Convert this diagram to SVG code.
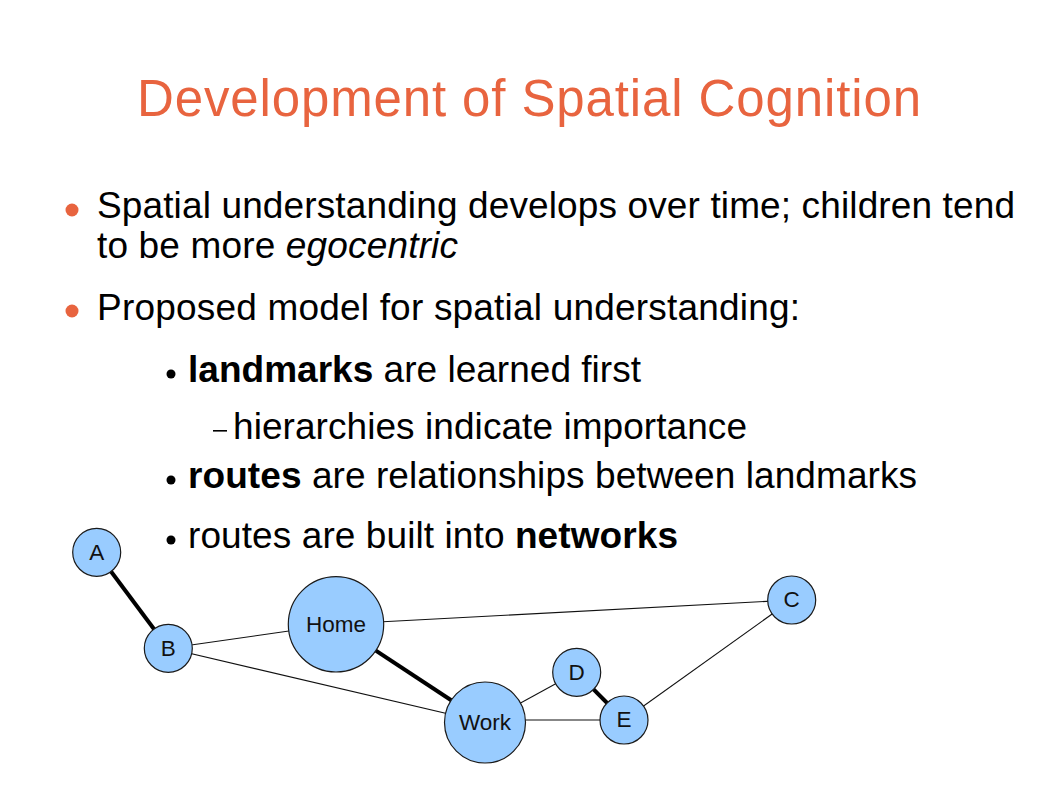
<svg xmlns="http://www.w3.org/2000/svg" width="1057" height="794" viewBox="0 0 1057 794">
<style>
.title{font-family:"Liberation Sans",Arial,sans-serif;font-size:51px;fill:#E8643F}
.body{font-family:"Liberation Sans",Arial,sans-serif;font-size:37px;fill:#000}
.b{font-weight:bold}
.i{font-style:italic}
.node circle{fill:#99CCFF;stroke:#1a1a1a;stroke-width:1.2}
.node text{font-family:"Liberation Sans",Arial,sans-serif;font-size:22.5px;fill:#111;text-anchor:middle}
.thin{stroke:#111;stroke-width:1.1}
.thick{stroke:#000;stroke-width:4}
</style>
<rect width="1057" height="794" fill="#fff"/>
<text class="title" x="137" y="116" textLength="784" lengthAdjust="spacing">Development of Spatial Cognition</text>
<circle cx="72" cy="210" r="6.5" fill="#E8643F"/>
<text class="body" x="97" y="218" textLength="918" lengthAdjust="spacing">Spatial understanding develops over time; children tend</text>
<text class="body" x="97" y="258" textLength="361" lengthAdjust="spacing">to be more <tspan class="i">egocentric</tspan></text>
<circle cx="72" cy="311" r="6.5" fill="#E8643F"/>
<text class="body" x="97" y="320" textLength="703" lengthAdjust="spacing">Proposed model for spatial understanding:</text>
<circle cx="171" cy="374" r="4.5" fill="#000"/>
<text class="body" x="188" y="382" textLength="453" lengthAdjust="spacing"><tspan class="b">landmarks</tspan> are learned first</text>
<rect x="213" y="430" width="14" height="1.6" fill="#000"/>
<text class="body" x="233" y="439" textLength="514" lengthAdjust="spacing">hierarchies indicate importance</text>
<circle cx="171" cy="480" r="4.5" fill="#000"/>
<text class="body" x="188" y="488" textLength="729" lengthAdjust="spacing"><tspan class="b">routes</tspan> are relationships between landmarks</text>
<circle cx="171" cy="540" r="4.5" fill="#000"/>
<text class="body" x="188" y="548" textLength="490" lengthAdjust="spacing">routes are built into <tspan class="b">networks</tspan></text>
<g id="connectors">
<line class="thick" x1="96.7" y1="552.3" x2="168.3" y2="648.3"/>
<line class="thin" x1="168.3" y1="648.3" x2="336" y2="624.3"/>
<line class="thin" x1="168.3" y1="648.3" x2="485" y2="722.5"/>
<line class="thick" x1="336" y1="624.3" x2="485" y2="722.5"/>
<line class="thin" x1="336" y1="624.3" x2="791.7" y2="600"/>
<line class="thin" x1="485" y1="722.5" x2="576.7" y2="672.3"/>
<line class="thin" x1="485" y1="720" x2="624" y2="720"/>
<line class="thick" x1="576.7" y1="672.3" x2="624" y2="720"/>
<line class="thin" x1="624" y1="720" x2="791.7" y2="600"/>
</g>
<g id="node-A" class="node"><circle cx="96.7" cy="552.3" r="24"/><text x="96.7" y="559.5">A</text></g>
<g id="node-B" class="node"><circle cx="168.3" cy="648.3" r="24"/><text x="168.3" y="655.5">B</text></g>
<g id="node-Home" class="node"><circle cx="336" cy="624.3" r="47.7"/><text x="336" y="631.5">Home</text></g>
<g id="node-Work" class="node"><circle cx="485" cy="722.5" r="40.5"/><text x="485" y="729.5">Work</text></g>
<g id="node-C" class="node"><circle cx="791.7" cy="600" r="24"/><text x="791.7" y="607">C</text></g>
<g id="node-D" class="node"><circle cx="576.7" cy="672.3" r="24"/><text x="576.7" y="679.5">D</text></g>
<g id="node-E" class="node"><circle cx="624" cy="720" r="24"/><text x="624" y="727">E</text></g>
</svg>
